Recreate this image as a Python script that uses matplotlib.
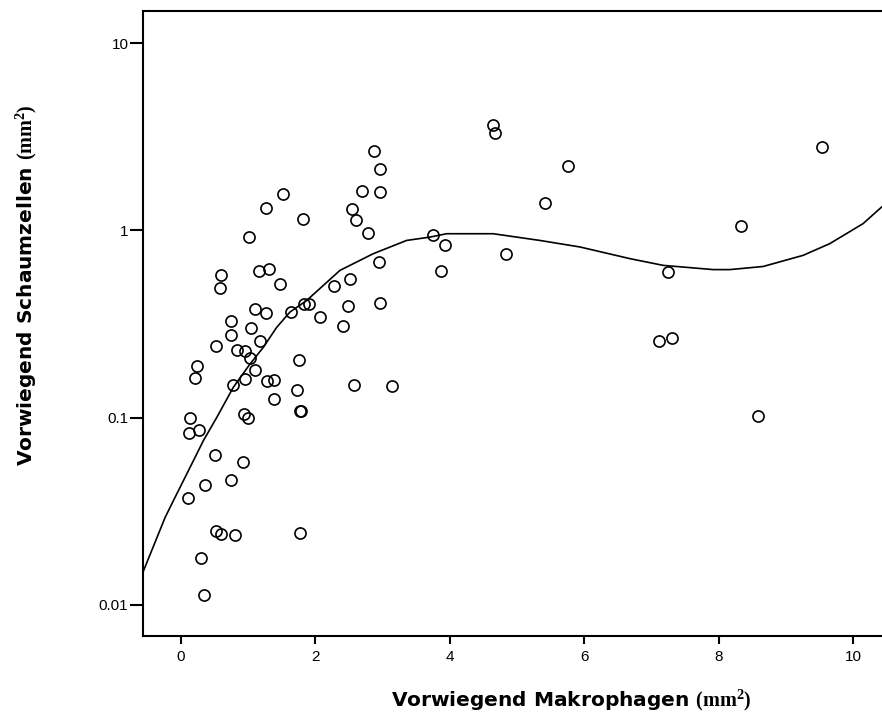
import numpy as np
import matplotlib
matplotlib.use("Agg")
import matplotlib.pyplot as plt

plt.rcParams['font.family'] = ['Liberation Sans', 'DejaVu Sans']
plt.rcParams['mathtext.fontset'] = 'custom'
plt.rcParams['mathtext.rm'] = 'Liberation Serif'
plt.rcParams['mathtext.bf'] = 'Liberation Serif:bold'

# scatter data
makro = [0.595, 0.580, 1.156, 1.313, 1.477, 2.945, 2.514, 2.280, 1.101, 1.260,
         0.748, 1.046, 0.748, 0.516, 1.180, 0.837, 0.952, 1.031, 1.636, 1.834,
         1.904, 2.068, 2.488, 2.960, 2.410, 1.760, 1.101, 0.234, 0.204, 0.956,
         0.778, 1.284, 1.383, 1.721, 1.379, 2.578, 3.138, 1.770, 1.789, 0.937,
         0.992, 0.134, 0.119, 0.272, 0.501, 0.918, 0.353, 0.748, 0.109, 0.521,
         0.591, 0.808, 1.770, 0.293, 0.338,
         2.875, 2.964, 2.688, 2.964, 1.517, 1.260, 2.548, 2.608, 1.819, 2.777, 1.007,
         4.645, 4.675, 9.539, 5.752, 5.419, 8.334, 3.753, 3.927, 4.834, 3.872,
         7.248, 7.114, 7.303, 8.578]
schaum = [0.574, 0.493, 0.605, 0.618, 0.514, 0.677, 0.547, 0.503, 0.378, 0.361,
          0.329, 0.300, 0.275, 0.242, 0.255, 0.230, 0.226, 0.208, 0.367, 0.402,
          0.402, 0.344, 0.393, 0.410, 0.307, 0.204, 0.180, 0.188, 0.163, 0.161,
          0.149, 0.156, 0.158, 0.141, 0.125, 0.150, 0.148, 0.109, 0.108, 0.104,
          0.100, 0.100, 0.083, 0.0863, 0.063, 0.058, 0.0435, 0.0465, 0.0372, 0.0248,
          0.0239, 0.0236, 0.0243, 0.0179, 0.0113,
          2.66, 2.13, 1.62, 1.60, 1.57, 1.32, 1.30, 1.13, 1.15, 0.967, 0.925,
          3.65, 3.29, 2.78, 2.20, 1.40, 1.05, 0.94, 0.838, 0.747, 0.605,
          0.601, 0.255, 0.267, 0.102]

# fitted curve
fit_x = [-0.561, -0.238, -0.115, 0.034, 0.183, 0.332, 0.531, 0.778, 1.026, 1.224,
         1.423, 1.621, 1.870, 2.365, 2.860, 3.357, 3.704, 3.952, 4.645, 5.340,
         5.935, 6.679, 7.174, 7.918, 8.166, 8.661, 9.256, 9.653, 10.149, 10.427]
fit_y = [0.0151, 0.0292, 0.0359, 0.0459, 0.0587, 0.0752, 0.100, 0.145, 0.193, 0.237,
         0.303, 0.366, 0.422, 0.611, 0.750, 0.883, 0.920, 0.959, 0.959, 0.883,
         0.815, 0.706, 0.650, 0.617, 0.617, 0.641, 0.735, 0.849, 1.086, 1.334]

x_ticks = [0, 2, 4, 6, 8, 10]
y_ticks = [0.01, 0.1, 1, 10]
y_ticklabels = ['0.01', '0.1', '1', '10']

fig = plt.figure(figsize=(8.82, 7.19), dpi=100)
ax = fig.add_axes([143/882, 1 - 636/719, 1 - 143/882, (636 - 11)/719])

ax.plot(fit_x, fit_y, color='black', lw=1.2)
ax.plot(makro, schaum, 'o', mfc='none', mec='black', ms=8, mew=1.2, ls='none')

ax.set_yscale('log')
ax.set_xlim(-0.565, 10.43)
ax.set_ylim(10**-2.166, 10**1.171)
ax.set_xticks(x_ticks)
ax.set_xticklabels([str(t) for t in x_ticks])
ax.set_yticks(y_ticks)
ax.set_yticklabels(y_ticklabels)
ax.minorticks_off()

for s in ['left', 'bottom', 'top']:
    ax.spines[s].set_linewidth(1.5)
ax.spines['right'].set_visible(False)
ax.tick_params(axis='x', length=6, width=1.5, labelsize=11, pad=4)
ax.tick_params(axis='y', length=9.5, width=1.5, labelsize=11, pad=1)

lab = dict(fontsize=14.5, fontweight='bold', family='DejaVu Sans')
ax.set_xlabel(r'Vorwiegend Makrophagen $\mathbf{(mm^2)}$', **lab)
ax.set_ylabel(r'Vorwiegend Schaumzellen $\mathbf{(mm^2)}$', **lab)
ax.xaxis.set_label_coords((571 - 143)/739, -(688 - 636)/625)
ax.yaxis.set_label_coords(-(143 - 39)/739, (636 - 285)/625)

fig.savefig('out.png', dpi=100)
